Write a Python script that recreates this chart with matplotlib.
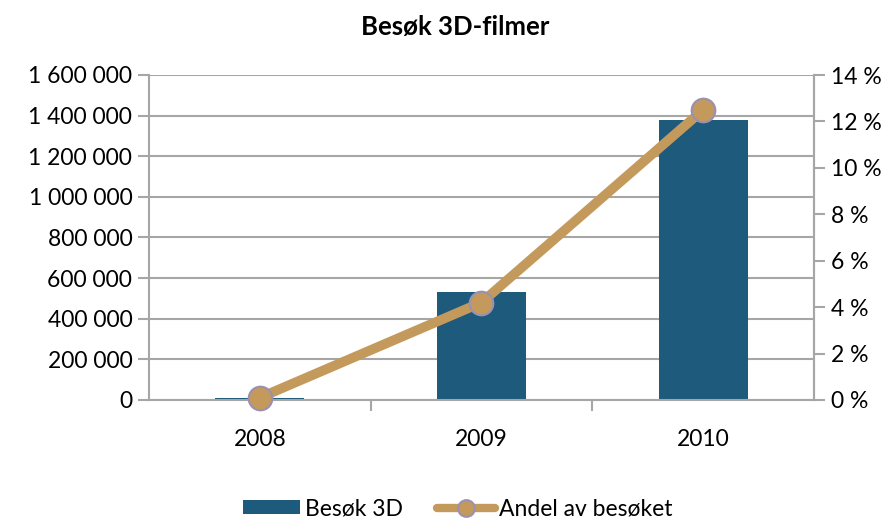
import matplotlib
matplotlib.use("Agg")
import matplotlib.pyplot as plt
from matplotlib.ticker import FuncFormatter, FixedLocator
from matplotlib.lines import Line2D
from matplotlib.patches import Patch

years = ["2008", "2009", "2010"]
visits_3d = [12000, 533000, 1378000]
share_pct = [0.1, 4.2, 12.5]
left_ticks = [0, 200000, 400000, 600000, 800000, 1000000, 1200000, 1400000, 1600000]
right_ticks = [0, 2, 4, 6, 8, 10, 12, 14]

FONT = ["Lato", "DejaVu Sans"]
plt.rcParams["font.family"] = FONT

BAR = "#1E5A7B"
LINE = "#C49A5C"
EDGE = "#9A90B4"
GRID = "#A6A6A6"
FS = 16.5

fig = plt.figure(figsize=(8.95, 5.21), dpi=100)
ax = fig.add_axes([149/895, 121/521, 665/895, 325/521])
x = list(range(len(years)))
ax.bar(x, visits_3d, width=0.4, color=BAR, zorder=2)
ax.set_xlim(-0.5, 2.5)
ax.set_ylim(0, 1600000)
ax.yaxis.set_major_locator(FixedLocator(left_ticks))
ax.yaxis.set_major_formatter(FuncFormatter(lambda v, p: f"{int(v):,}".replace(",", " ")))
ax.set_xticks(x)
ax.set_xticklabels(years)
ax.set_xticks([0.5, 1.5], minor=True)
ax.tick_params(axis="x", which="major", length=0, pad=21, labelsize=FS)
ax.tick_params(axis="x", which="minor", length=8, width=1.5, color=GRID, direction="out")
ax.tick_params(axis="y", length=8, width=1.5, color=GRID, labelsize=FS, pad=4)
ax.grid(axis="y", color=GRID, linewidth=1.5, zorder=0)
ax.set_axisbelow(True)
ax.spines["top"].set_visible(False)
for s in ["left", "right", "bottom"]:
    ax.spines[s].set_color(GRID)
    ax.spines[s].set_linewidth(1.5)

ax2 = ax.twinx()
ax2.set_ylim(0, 14)
ax2.yaxis.set_major_locator(FixedLocator(right_ticks))
ax2.yaxis.set_major_formatter(FuncFormatter(lambda v, p: f"{int(round(v))} %"))
ax2.tick_params(axis="y", length=8, width=1.5, color=GRID, labelsize=FS, pad=4)
for s in ["top", "left", "bottom"]:
    ax2.spines[s].set_visible(False)
ax2.spines["right"].set_color(GRID)
ax2.spines["right"].set_linewidth(1.5)
ax2.plot(x, share_pct, color=LINE, linewidth=7, solid_capstyle="round",
         marker="o", markersize=17, markerfacecolor=LINE,
         markeredgecolor=EDGE, markeredgewidth=1.5, clip_on=False, zorder=3)

fig.text(455/895, 1 - 27/521, "Besøk 3D-filmer", ha="center", va="center",
         fontsize=18.5, fontweight="bold")

handles = [Patch(facecolor=BAR, edgecolor="none"),
           Line2D([0], [0], color=LINE, linewidth=6, solid_capstyle="round",
                  marker="o", markersize=12,
                  markerfacecolor=LINE, markeredgecolor=EDGE, markeredgewidth=1.5)]
fig.legend(handles, ["Besøk 3D", "Andel av besøket"], loc="center",
           bbox_to_anchor=(458/895, 1 - 509/521), ncol=2, frameon=False,
           fontsize=FS, handlelength=2.5, handletextpad=0.2, columnspacing=1.5,
           handleheight=0.55)

fig.savefig("out.png", dpi=100)
